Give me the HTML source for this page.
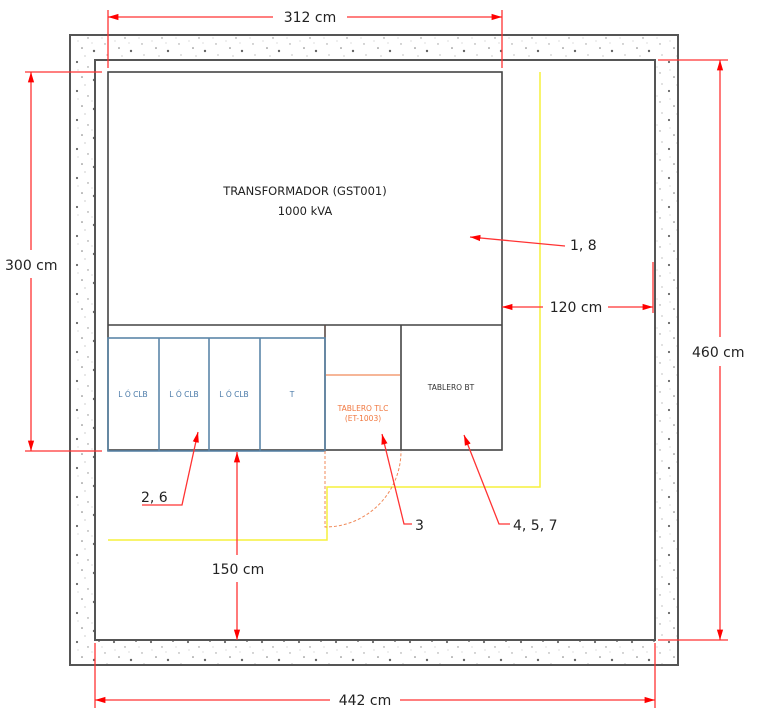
<!DOCTYPE html>
<html><head><meta charset="utf-8"><style>
html,body{margin:0;padding:0;background:#fff;}
svg{display:block;}
text{font-family:"DejaVu Sans","Liberation Sans",sans-serif;}
</style></head><body>
<svg width="761" height="724" viewBox="0 0 761 724" xmlns="http://www.w3.org/2000/svg">
<defs>
<pattern id="dots" width="37" height="29" patternUnits="userSpaceOnUse">
<circle cx="3" cy="4" r="1.1" fill="#666"/><circle cx="14" cy="9" r="0.7" fill="#888"/>
<circle cx="25" cy="3" r="1" fill="#777"/><circle cx="31" cy="15" r="0.7" fill="#999"/>
<circle cx="8" cy="19" r="0.8" fill="#777"/><circle cx="20" cy="22" r="1.2" fill="#666"/>
<circle cx="33" cy="26" r="0.6" fill="#999"/><circle cx="11" cy="27" r="0.6" fill="#aaa"/>
<circle cx="18" cy="14" r="0.5" fill="#aaa"/><circle cx="28" cy="9" r="0.5" fill="#aaa"/>
<circle cx="4" cy="12" r="0.5" fill="#aaa"/>
</pattern>
<marker id="ar" viewBox="0 0 10 10" refX="10" refY="5" markerWidth="8" markerHeight="8" orient="auto-start-reverse"><path d="M0,2 L10,5 L0,8 z" fill="#f00"/></marker>
</defs>
<path d="M70,35 H678 V665 H70 Z M95,60 V640 H655 V60 Z" fill="url(#dots)" fill-rule="evenodd"/>
<rect x="70" y="35" width="608" height="630" fill="none" stroke="#555" stroke-width="2"/>
<rect x="95" y="60" width="560" height="580" fill="none" stroke="#555" stroke-width="2"/>
<g stroke="#f5f03c" stroke-width="1.5" fill="none">
<polyline points="540,72 540,487 327,487 327,540 108,540"/>
</g>
<rect x="108" y="72" width="394" height="378" fill="none" stroke="#444" stroke-width="1.6"/>
<line x1="108" y1="325" x2="502" y2="325" stroke="#444" stroke-width="1.6"/>
<line x1="325" y1="325" x2="325" y2="450" stroke="#5a4a45" stroke-width="1.6"/>
<line x1="401" y1="325" x2="401" y2="450" stroke="#444" stroke-width="1.6"/>
<g stroke="#5b86a8" stroke-width="1.6" fill="none">
<rect x="108" y="338" width="217" height="113"/>
<line x1="159" y1="338" x2="159" y2="451"/><line x1="209" y1="338" x2="209" y2="451"/><line x1="260" y1="338" x2="260" y2="451"/>
</g>
<g fill="#4a7aa8" font-size="7.5" text-anchor="middle">
<text x="133" y="397">L Ó CLB</text><text x="184" y="397">L Ó CLB</text><text x="234" y="397">L Ó CLB</text><text x="292" y="397">T</text>
</g>
<line x1="326" y1="375" x2="400" y2="375" stroke="#f08a5a" stroke-width="1.3"/>
<g fill="#f07840" font-size="7.5" text-anchor="middle"><text x="363" y="411">TABLERO TLC</text><text x="363" y="421">(ET-1003)</text></g>
<text x="451" y="390" font-size="7.5" text-anchor="middle" fill="#333">TABLERO BT</text>
<path d="M325,451 V527 A76,76 0 0 0 401,451" fill="none" stroke="#f08a5a" stroke-width="1" stroke-dasharray="3,2"/>
<g fill="#222" font-size="11.5" text-anchor="middle">
<text x="305" y="195">TRANSFORMADOR (GST001)</text><text x="305" y="215">1000 kVA</text>
</g>
<g stroke="#f33" stroke-width="1.3" fill="none">
<line x1="108" y1="10" x2="108" y2="68"/><line x1="502" y1="10" x2="502" y2="68"/>
<line x1="108" y1="17" x2="273" y2="17" marker-start="url(#ar)"/><line x1="347" y1="17" x2="502" y2="17" marker-end="url(#ar)"/>
<line x1="25" y1="72" x2="102" y2="72"/><line x1="25" y1="451" x2="102" y2="451"/>
<line x1="31" y1="72" x2="31" y2="250" marker-start="url(#ar)"/><line x1="31" y1="278" x2="31" y2="451" marker-end="url(#ar)"/>
<line x1="658" y1="60" x2="728" y2="60"/><line x1="658" y1="640" x2="728" y2="640"/>
<line x1="720" y1="60" x2="720" y2="337" marker-start="url(#ar)"/><line x1="720" y1="366" x2="720" y2="640" marker-end="url(#ar)"/>
<line x1="95" y1="643" x2="95" y2="708"/><line x1="655" y1="643" x2="655" y2="708"/>
<line x1="95" y1="700" x2="330" y2="700" marker-start="url(#ar)"/><line x1="400" y1="700" x2="655" y2="700" marker-end="url(#ar)"/>
<line x1="502" y1="307" x2="543" y2="307" marker-start="url(#ar)"/><line x1="608" y1="307" x2="653" y2="307" marker-end="url(#ar)"/>
<line x1="653" y1="262" x2="653" y2="313"/>
<line x1="237" y1="452" x2="237" y2="555" marker-start="url(#ar)"/><line x1="237" y1="582" x2="237" y2="640" marker-end="url(#ar)"/>
<line x1="565" y1="246" x2="470" y2="237" marker-end="url(#ar)"/>
<polyline points="142,505 182,505 198,432" marker-end="url(#ar)"/>
<polyline points="412,524 404,524 382,434" marker-end="url(#ar)"/>
<polyline points="510,524 499,524 464,435" marker-end="url(#ar)"/>
</g>
<g fill="#222" font-size="14">
<text x="310" y="22" text-anchor="middle">312 cm</text>
<text x="5" y="270">300 cm</text>
<text x="692" y="357">460 cm</text>
<text x="365" y="705" text-anchor="middle">442 cm</text>
<text x="576" y="312" text-anchor="middle">120 cm</text>
<text x="238" y="574" text-anchor="middle">150 cm</text>
<text x="570" y="250">1, 8</text>
<text x="141" y="502">2, 6</text>
<text x="415" y="530">3</text>
<text x="513" y="530">4, 5, 7</text>
</g>
</svg>
</body></html>
